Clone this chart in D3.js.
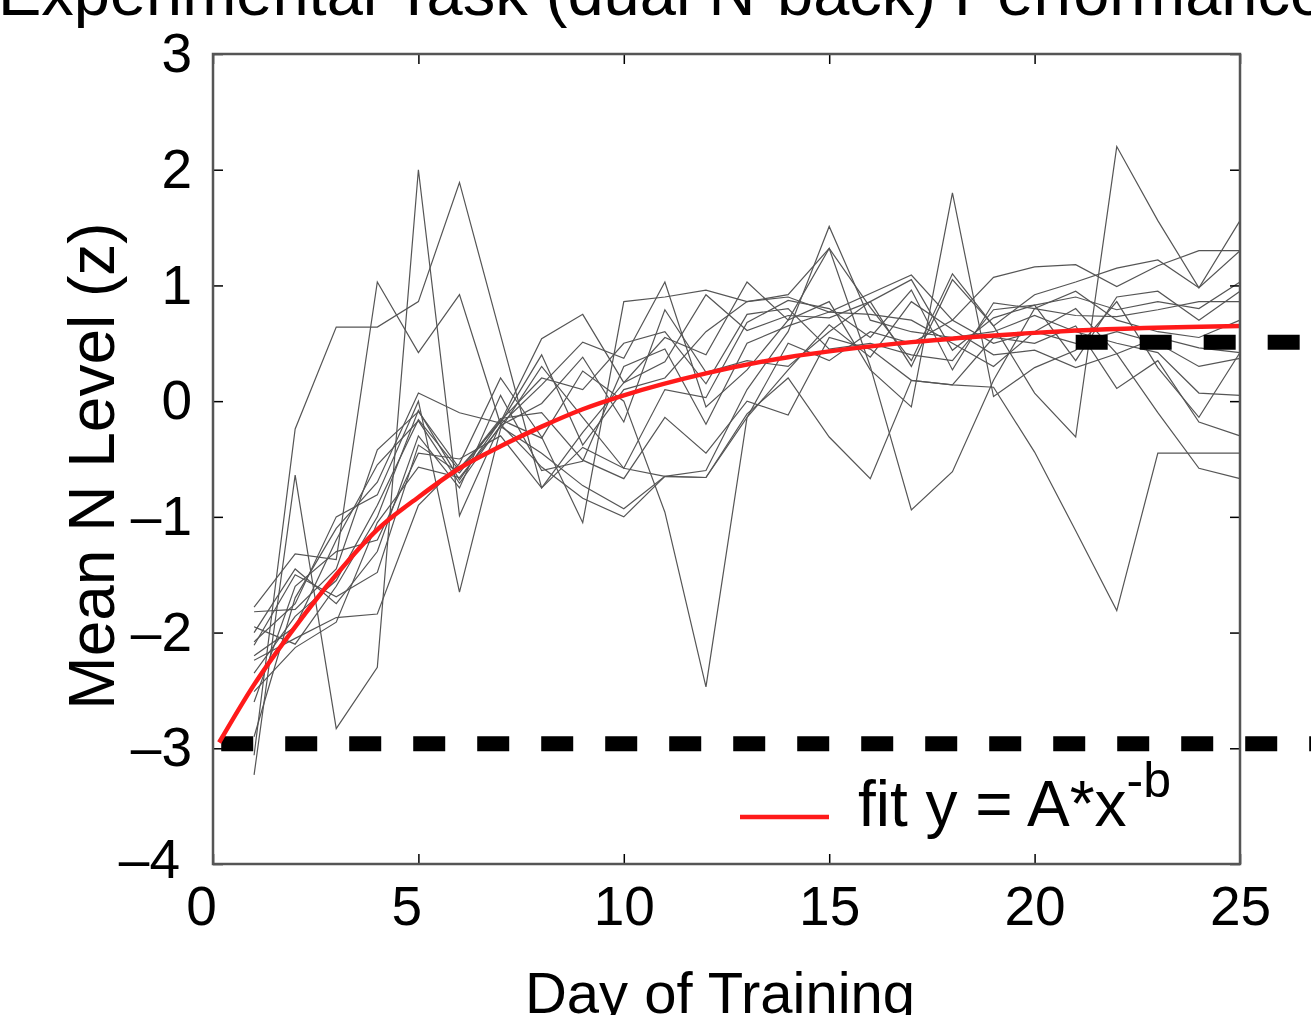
<!DOCTYPE html>
<html>
<head>
<meta charset="utf-8">
<script src="https://cdn.jsdelivr.net/npm/d3@7"></script>
<style>
  html, body { margin: 0; padding: 0; background: #fff; }
  svg { display: block; font-family: "Liberation Sans", Arial, Helvetica, sans-serif; }
</style>
</head>
<body>
<svg id="chart" width="1311" height="1015"></svg>
<script>
// Training days 1..25
const days = d3.range(1, 26);

// Per-subject mean N level (z-scored), one array per participant, days 1..25
const subject01 = [-3.06, -0.24, 0.64, 0.64, 0.86, 1.89, 0.57, -0.75, -0.27, 0.16, 0.34, 0.92, 0.61, 0.74, 0.72, 0.86, 1.05, 0.44, 0.72, 0.83, 0.90, 0.79, 0.86, 0.80, 1.03];
const subject02 = [-1.78, -1.32, -1.37, 1.03, 0.42, 0.92, -0.20, 0.14, 0.51, 0.37, 1.03, -0.05, 0.27, 0.70, 1.32, 0.81, 0.35, 1.10, 0.65, 0.92, 1.03, 1.15, 1.22, 0.98, 1.30];
const subject03 = [-3.23, -0.64, -2.83, -2.30, 2.00, -0.99, -0.20, -0.57, -0.84, -1.00, -0.65, -0.66, -0.14, 0.27, 0.66, 0.38, 0.86, 0.62, 0.40, 0.44, 0.29, 0.41, 0.55, 0.46, 0.42];
const subject04 = [-2.08, -1.75, -1.00, -0.81, 0.00, -1.65, -0.24, 0.30, -0.14, -0.58, 0.10, 0.03, 0.68, 0.87, 0.80, 0.55, 0.96, 0.27, 0.85, 0.80, 0.74, 0.73, 0.79, 0.86, 0.86];
const subject05 = [-2.11, -1.50, -1.69, -1.48, -0.38, -0.62, -0.16, -0.32, 0.26, 0.00, -0.96, -2.47, -0.14, 0.50, 0.35, 0.60, 0.50, 0.70, 0.50, 0.60, 0.50, 0.60, 0.50, 0.30, 0.37];
const subject06 = [-2.24, -2.05, -1.87, -1.84, -0.90, -0.54, 0.20, -0.31, -1.05, 0.86, 0.90, 0.96, 0.86, 0.90, 0.77, 0.93, 1.09, 0.70, 1.07, 1.16, 1.18, 0.99, 1.17, 1.30, 1.30];
const subject07 = [-2.51, -2.13, -1.91, -1.05, -0.57, -0.66, -0.22, -0.45, -0.73, -0.93, -0.65, -0.60, 0.10, 0.60, 1.51, 0.70, 0.60, 0.55, 0.60, 0.74, 0.60, 0.50, 0.42, 0.07, 0.05];
const subject08 = [-1.82, -1.80, -1.45, -0.42, -0.09, -0.58, -0.18, 0.54, 0.75, 0.16, 0.55, 0.40, 1.03, 0.70, 0.86, 0.27, -0.05, 1.80, 0.04, 0.29, 0.44, 0.86, 0.29, -0.14, 0.42];
const subject09 = [-2.20, -1.95, -1.20, -0.55, -0.17, -0.71, -0.21, -0.02, 0.38, -0.18, 0.79, 0.25, 0.35, 0.30, 0.60, 0.86, 0.30, 1.05, 0.65, 0.07, -0.31, 2.20, 1.56, 0.98, 1.56];
const subject10 = [-2.35, -1.86, -1.55, -0.90, -0.16, -0.60, -0.15, -0.10, -0.51, -0.67, -0.14, -0.45, 0.00, -0.12, 0.55, 0.45, 0.18, 0.14, 0.12, -0.44, -1.12, -1.81, -0.45, -0.45, -0.45];
const subject11 = [-2.60, -1.60, -1.30, -1.20, -0.45, -0.50, -0.30, -0.75, -0.40, -0.58, -0.65, -0.66, -0.11, 0.20, -0.31, -0.67, 0.18, 0.14, 0.55, 0.50, 0.65, 0.11, 0.35, -0.18, -0.30];
const subject12 = [-2.90, -1.70, -1.10, -0.70, 0.07, -0.10, -0.19, 0.40, -0.38, 0.10, 0.20, 0.60, 0.86, 0.92, 1.32, 0.30, -0.94, -0.61, 0.18, 0.80, 0.95, 0.70, 0.60, 0.55, 0.70];
const subject13 = [-2.00, -1.45, -1.75, -1.30, -0.30, -0.75, 0.05, -0.60, -0.52, 0.30, 0.45, -0.20, 0.50, 0.65, 0.77, 0.75, 0.70, 0.50, 0.30, 0.60, 0.80, 0.41, -0.10, -0.58, -0.67];
const subject14 = [-1.95, -2.10, -1.60, -1.00, -0.08, -0.68, -0.17, 0.20, 0.10, 0.50, 0.60, 0.15, 0.75, 0.80, 0.45, 0.50, 0.40, 0.35, 0.79, 0.83, 0.35, 0.90, 0.95, 0.70, 0.95];

const subjects = [subject01, subject02, subject03, subject04, subject05, subject06, subject07,
                  subject08, subject09, subject10, subject11, subject12, subject13, subject14];

// Group power-law fit, sampled along the day axis
const fitDays   = [0.15, 1, 2, 3, 4, 5, 6, 7, 8, 9, 10, 12, 14, 15, 17, 20, 21, 25];
const fitValues = [-2.95, -2.45, -1.95, -1.50, -1.11, -0.83, -0.58, -0.39, -0.22, -0.07, 0.05, 0.24, 0.38, 0.43, 0.51, 0.59, 0.61, 0.65];

// Reference levels (dashed)
const refLevels = [
  { value: -2.96, from: 0.2, to: 27 },
  { value: 0.51,  from: 21,  to: 27 }
];

const xTicks = [0, 5, 10, 15, 20, 25];
const yTicks = [-4, -3, -2, -1, 0, 1, 2, 3];

const titleText = "Experimental Task (dual N-back) Performance";
const xLabel = "Day of Training";
const yLabel = "Mean N Level (z)";
const legendText = "fit y = A*x";
const legendSup = "-b";

// ---- layout ----
const svg = d3.select("#chart");
const plot = { left: 213, right: 1240, top: 54, bottom: 864 };

const x = d3.scaleLinear().domain([0, 25]).range([plot.left, plot.right]);
const y = d3.scaleLinear().domain([-4, 3]).range([plot.bottom, plot.top]);

const axisColor = "#555";
const fmt = d => (d < 0 ? "\u2013" + Math.abs(d) : String(d));

// title (sits partly above the top edge)
svg.append("text")
  .attr("x", 662).attr("y", 15)
  .attr("text-anchor", "middle")
  .attr("font-size", 65)
  .attr("fill", "#000")
  .text(titleText);

// subject trajectories
const line = d3.line().x((d, i) => x(days[i])).y(d => y(d));
svg.append("g")
  .selectAll("path")
  .data(subjects)
  .join("path")
  .attr("d", line)
  .attr("fill", "none")
  .attr("stroke", "#555")
  .attr("stroke-width", 1.2)
  .attr("stroke-linejoin", "miter");

// dashed reference levels
svg.append("g")
  .selectAll("line")
  .data(refLevels)
  .join("line")
  .attr("x1", d => x(d.from)).attr("x2", d => x(d.to))
  .attr("y1", d => y(d.value)).attr("y2", d => y(d.value))
  .attr("stroke", "#000")
  .attr("stroke-width", 15)
  .attr("stroke-dasharray", "32,32");

// fitted curve
const fitLine = d3.line()
  .x((d, i) => x(fitDays[i]))
  .y(d => y(d))
  .curve(d3.curveMonotoneX);
svg.append("path")
  .attr("d", fitLine(fitValues))
  .attr("fill", "none")
  .attr("stroke", "#ff1a1a")
  .attr("stroke-width", 4.5);

// axes: ticks point inward on all four sides
const styleAxis = g => {
  g.select(".domain").remove();
  g.selectAll(".tick line").attr("stroke", "#000").attr("stroke-width", 1.5);
  g.selectAll(".tick text").attr("fill", "#000").attr("font-size", 55)
    .attr("font-family", "'Liberation Sans', Arial, Helvetica, sans-serif");
};

const yAxis = svg.append("g")
  .attr("transform", `translate(${plot.left},0)`)
  .call(d3.axisLeft(y).tickValues(yTicks).tickSize(-10).tickPadding(21).tickFormat(fmt))
  .call(styleAxis);
// lowest label is nudged left, clear of the x-axis origin label
yAxis.selectAll(".tick text").filter(d => d === -4).attr("dx", -12).attr("dy", "0.25em");

const xAxis = svg.append("g")
  .attr("transform", `translate(0,${plot.bottom})`)
  .call(d3.axisBottom(x).tickValues(xTicks).tickSize(-10).tickPadding(22).tickFormat(fmt))
  .call(styleAxis);
// single-digit labels sit slightly left of their tick
xAxis.selectAll(".tick text").filter(d => d < 10).attr("dx", -12);

svg.append("g")
  .attr("transform", `translate(${plot.right},0)`)
  .call(d3.axisRight(y).tickValues(yTicks).tickSize(-10).tickFormat(""))
  .call(styleAxis);

svg.append("g")
  .attr("transform", `translate(0,${plot.top})`)
  .call(d3.axisTop(x).tickValues(xTicks).tickSize(-10).tickFormat(""))
  .call(styleAxis);

// frame
svg.append("rect")
  .attr("x", plot.left).attr("y", plot.top)
  .attr("width", plot.right - plot.left).attr("height", plot.bottom - plot.top)
  .attr("fill", "none")
  .attr("stroke", axisColor)
  .attr("stroke-width", 2.5);

// axis titles
svg.append("text")
  .attr("x", 720).attr("y", 1013)
  .attr("text-anchor", "middle")
  .attr("font-size", 58)
  .text(xLabel);

svg.append("text")
  .attr("transform", "translate(114,466) rotate(-90)")
  .attr("text-anchor", "middle")
  .attr("font-size", 64)
  .text(yLabel);

// legend
const lg = svg.append("g");
lg.append("line")
  .attr("x1", 740).attr("x2", 829)
  .attr("y1", 817).attr("y2", 817)
  .attr("stroke", "#ff1a1a").attr("stroke-width", 4.5);
const lt = lg.append("text")
  .attr("x", 858).attr("y", 826)
  .attr("font-size", 64)
  .attr("fill", "#000");
lt.append("tspan").text(legendText);
lt.append("tspan").attr("dy", -29).attr("font-size", 50).text(legendSup);
</script>
</body>
</html>
